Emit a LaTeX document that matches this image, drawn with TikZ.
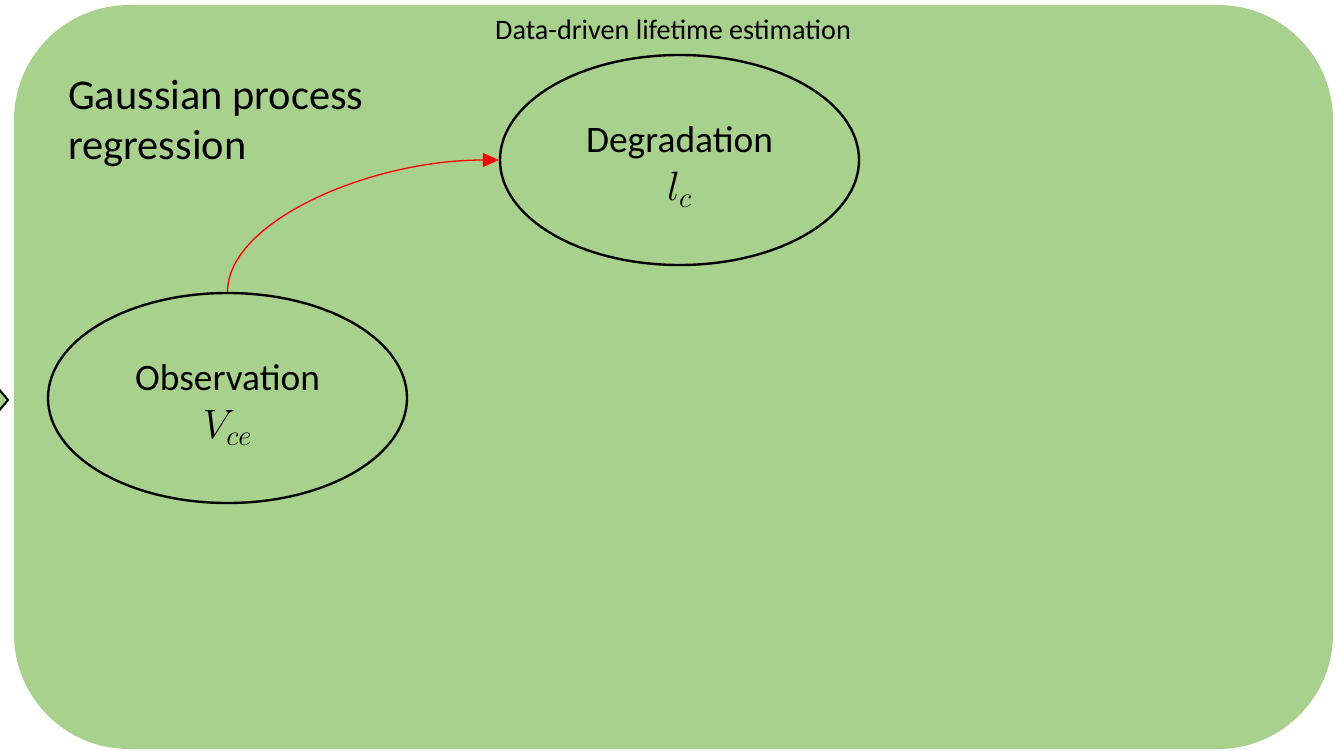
\RequirePackage{fix-cm}
\documentclass[tikz,border=0pt]{standalone}
\usepackage{fontspec}
\setmainfont{Carlito}
\usetikzlibrary{shapes.geometric,arrows.meta}
\definecolor{panelgreen}{HTML}{A9D18E}
\newcommand{\symsize}{\fontsize{41}{41}\selectfont}
\newcommand{\topstrut}{\rule{0pt}{40pt}}
\tikzset{
  state/.style={ellipse, draw=black, line width=2.4pt, fill=panelgreen,
    minimum width=359pt, minimum height=210pt, inner sep=0pt, align=center,
    font=\fontsize{37.4}{48}\selectfont},
  link/.style={draw=red, line width=1.3pt, -{Triangle[length=16pt,width=14pt]}}
}
\begin{document}
\begin{tikzpicture}[x=1pt,y=-1pt]
  \useasboundingbox (0,0) rectangle (1337,751);
  % panel
  \fill[panelgreen, rounded corners=115pt] (14,5) rectangle (1333,749);
  % arrow tip entering from the left
  \filldraw[fill=panelgreen, draw=black, line width=2pt, line join=miter]
    (-2,388) -- (8,400) -- (-2,412);
  % labels
  \node[font=\fontsize{28.2}{32}\selectfont] (title) at (673,30) {Data-driven lifetime estimation};
  \node[anchor=north west, inner sep=0pt, align=left, font=\fontsize{42.4}{50}\selectfont]
    (method) at (68,80) {Gaussian process\\regression};
  % states
  \node[state] (obs) at (227.5,398) {\topstrut Observation\\{\symsize$V_{ce}$}};
  \node[state] (deg) at (679.5,160) {\topstrut Degradation\\{\symsize$l_c$}};
  % transition
  \draw[link] (obs.north) .. controls +(0,-70) and +(-130,0) .. (deg.west);
\end{tikzpicture}
\end{document}
